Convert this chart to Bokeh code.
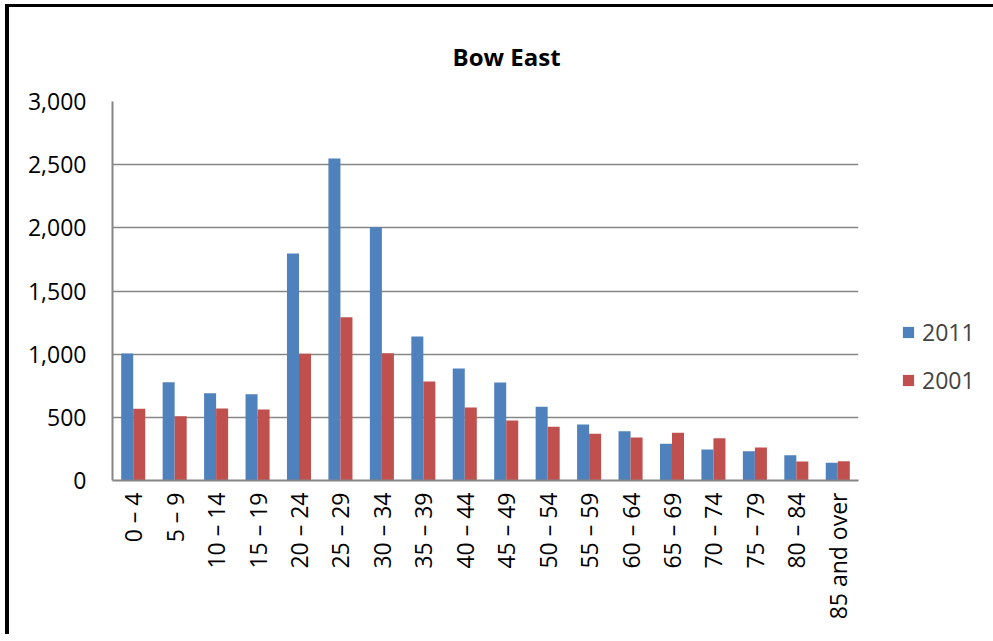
from math import pi
from bokeh.plotting import figure
from bokeh.models import (FactorRange, Range1d, Legend, LegendItem, NumeralTickFormatter,
                          ColumnDataSource, FixedTicker, Title)
from bokeh.transform import dodge
from bokeh.embed import file_html
from bokeh.resources import INLINE

ages = ["0 – 4", "5 – 9", "10 – 14", "15 – 19", "20 – 24", "25 – 29", "30 – 34",
        "35 – 39", "40 – 44", "45 – 49", "50 – 54", "55 – 59", "60 – 64", "65 – 69",
        "70 – 74", "75 – 79", "80 – 84", "85 and over"]
y2011 = [1005, 778, 691, 683, 1797, 2549, 2005, 1140, 887, 776, 584, 443, 390, 290, 245, 232, 200, 140]
y2001 = [568, 509, 570, 562, 1003, 1293, 1008, 784, 578, 475, 425, 370, 340, 378, 335, 261, 150, 153]
y_ticks = [0, 500, 1000, 1500, 2000, 2500, 3000]
series_names = ["2011", "2001"]
series_colors = ["#4F81BD", "#C0504D"]

FONT = "Open Sans"
GRAY = "#868686"

src = ColumnDataSource(dict(age=ages, y2011=y2011, y2001=y2001))

p = figure(x_range=FactorRange(*ages, range_padding=0), y_range=Range1d(0, 3000),
           frame_width=746, frame_height=379, output_backend="svg", toolbar_location=None,
           min_border_left=103, min_border_right=135, min_border_top=94, min_border_bottom=154,
           outline_line_color=None, background_fill_color="white", border_fill_color="white")
p.styles = {"border-left": "4px solid black", "border-top": "3px solid black",
            "margin-left": "5px", "margin-top": "4px"}

r1 = p.vbar(x=dodge("age", -0.145, range=p.x_range), top="y2011", width=0.29,
            source=src, fill_color=series_colors[0], line_color=None)
r2 = p.vbar(x=dodge("age", 0.145, range=p.x_range), top="y2001", width=0.29,
            source=src, fill_color=series_colors[1], line_color=None)

t = Title(text="Bow East", align="left", text_font=FONT, text_font_size="24px",
          text_font_style="bold", text_color="black", offset=340, standoff=58)
p.add_layout(t, "above")

p.xgrid.grid_line_color = None
p.ygrid.grid_line_color = GRAY
p.ygrid.grid_line_width = 1.5
p.ygrid.ticker = FixedTicker(ticks=y_ticks)

p.yaxis.ticker = FixedTicker(ticks=y_ticks)
p.yaxis.formatter = NumeralTickFormatter(format="0,0")
for ax in (p.xaxis[0], p.yaxis[0]):
    ax.axis_line_color = GRAY
    ax.axis_line_width = 2
    ax.major_tick_line_color = None
    ax.minor_tick_line_color = None
    ax.major_tick_out = 0
    ax.major_tick_in = 0
    ax.major_label_text_font = FONT
    ax.major_label_text_font_size = "23px"
    ax.major_label_text_color = "black"
p.yaxis.major_label_standoff = 26
p.xaxis.major_label_orientation = pi / 2
p.xaxis.major_label_standoff = 12
p.xaxis.group_text_font_size = "0px"

legend = Legend(items=[LegendItem(label=series_names[0], renderers=[r1]),
                       LegendItem(label=series_names[1], renderers=[r2])],
                location=(43, 84), orientation="vertical", margin=0, padding=0,
                border_line_color=None, background_fill_alpha=0,
                glyph_width=14, glyph_height=14, label_text_font=FONT,
                label_text_font_size="23px", label_standoff=7, spacing=16,
                label_height=20)
p.add_layout(legend, "right")

open("out.html", "w").write(file_html(p, INLINE))
